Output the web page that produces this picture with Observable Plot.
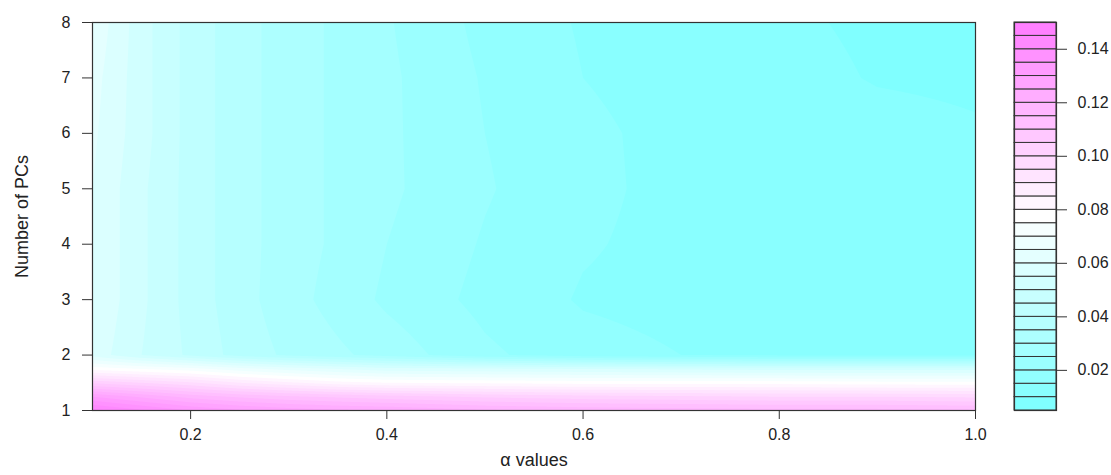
<!DOCTYPE html>
<html>
<head>
<meta charset="utf-8">
<script src="https://cdn.jsdelivr.net/npm/d3@7"></script>
<script src="https://cdn.jsdelivr.net/npm/@observablehq/plot@0.6"></script>
<style>
  html, body { margin: 0; padding: 0; background: white; }
  #wrap { position: relative; width: 1111px; height: 475px; overflow: hidden; background: white; }
  #main { position: absolute; left: 0; top: 0; }
  #legend { position: absolute; left: 990px; top: 0; }
</style>
</head>
<body>
<div id="wrap"><div id="main"></div><div id="legend"></div></div>
<script>
// Grid of alpha values (x) and numbers of PCs (y) at which the field was read
const alphas = [0.1, 0.15, 0.2, 0.25, 0.3, 0.35, 0.4, 0.5, 0.6, 0.7, 0.8, 0.9, 1.0];
const pcs = [1, 1.25, 1.5, 1.75, 2, 3, 4, 5, 6, 7, 8];

// Values, one row per PC position (columns follow alphas)
const val_pc1    = [0.147, 0.141, 0.135, 0.131, 0.128, 0.126, 0.125, 0.121, 0.119, 0.118, 0.117, 0.117, 0.116];
const val_pc1_25 = [0.130, 0.124, 0.118, 0.114, 0.111, 0.109, 0.107, 0.104, 0.102, 0.101, 0.100, 0.100, 0.099];
const val_pc1_5  = [0.104, 0.100, 0.096, 0.090, 0.086, 0.082, 0.080, 0.079, 0.078, 0.078, 0.078, 0.077, 0.077];
const val_pc1_75 = [0.078, 0.075, 0.072, 0.067, 0.063, 0.060, 0.057, 0.056, 0.055, 0.054, 0.053, 0.053, 0.053];
const val_pc2    = [0.058, 0.050, 0.044, 0.038, 0.034, 0.031, 0.028, 0.021, 0.017, 0.015, 0.014, 0.014, 0.014];
const val_pc3    = [0.060, 0.051, 0.043, 0.037, 0.032, 0.028, 0.024, 0.0185, 0.0145, 0.0133, 0.012, 0.0115, 0.011];
const val_pc4    = [0.060, 0.051, 0.043, 0.037, 0.0325, 0.029, 0.025, 0.0195, 0.0155, 0.0135, 0.012, 0.0115, 0.011];
const val_pc5    = [0.060, 0.051, 0.043, 0.037, 0.0325, 0.029, 0.026, 0.0205, 0.0162, 0.0135, 0.012, 0.0115, 0.011];
const val_pc6    = [0.061, 0.052, 0.043, 0.037, 0.0325, 0.029, 0.026, 0.020, 0.016, 0.0135, 0.012, 0.011, 0.0103];
const val_pc7    = [0.062, 0.052, 0.043, 0.037, 0.0325, 0.029, 0.026, 0.0195, 0.015, 0.013, 0.011, 0.0098, 0.0095];
const val_pc8    = [0.064, 0.052, 0.043, 0.037, 0.0325, 0.029, 0.0255, 0.0185, 0.0145, 0.0125, 0.0105, 0.0095, 0.0093];
const grid = [val_pc1, val_pc1_25, val_pc1_5, val_pc1_75, val_pc2, val_pc3, val_pc4, val_pc5, val_pc6, val_pc7, val_pc8];

// Contour levels and tick labels
const levels = [0.005, 0.01, 0.015, 0.02, 0.025, 0.03, 0.035, 0.04, 0.045, 0.05, 0.055, 0.06, 0.065, 0.07, 0.075,
                0.08, 0.085, 0.09, 0.095, 0.1, 0.105, 0.11, 0.115, 0.12, 0.125, 0.13, 0.135, 0.14, 0.145, 0.15];
const xTicks = [0.2, 0.4, 0.6, 0.8, 1.0];
const yTicks = [1, 2, 3, 4, 5, 6, 7, 8];
const legendTicks = [0.02, 0.04, 0.06, 0.08, 0.10, 0.12, 0.14];

// R cm.colors(29) palette
const nBands = levels.length - 1, half = Math.floor(nBands / 2);
const colors = [];
for (let i = 0; i <= half; i++) { const s = 0.5 - i * 0.5 / half; colors.push(d3.rgb(Math.round(255 * (1 - s)), 255, 255).formatHex()); }
for (let j = 1; j < nBands - half; j++) { const s = j * 0.5 / half; colors.push(d3.rgb(255, Math.round(255 * (1 - s)), 255).formatHex()); }

function field(x, y) {
  const i = Math.max(0, Math.min(alphas.length - 2, d3.bisectRight(alphas, x) - 1));
  const j = Math.max(0, Math.min(pcs.length - 2, d3.bisectRight(pcs, y) - 1));
  const tx = Math.max(0, Math.min(1, (x - alphas[i]) / (alphas[i + 1] - alphas[i])));
  const ty = Math.max(0, Math.min(1, (y - pcs[j]) / (pcs[j + 1] - pcs[j])));
  const v00 = grid[j][i], v10 = grid[j][i + 1], v01 = grid[j + 1][i], v11 = grid[j + 1][i + 1];
  return v00 * (1 - tx) * (1 - ty) + v10 * tx * (1 - ty) + v01 * (1 - tx) * ty + v11 * tx * ty;
}

const font = "'Liberation Sans', Arial, Helvetica, sans-serif";

const main = Plot.plot({
  width: 990, height: 475,
  marginLeft: 92, marginRight: 15, marginTop: 22, marginBottom: 65,
  style: {background: "white", fontFamily: font, fontSize: "16px", color: "#222", overflow: "visible"},
  x: {domain: [0.1, 1.0]},
  y: {domain: [1, 8]},
  color: {type: "threshold", domain: levels.slice(1, -1), range: colors},
  marks: [
    Plot.contour(undefined, {x1: 0.1, x2: 1.0, y1: 1, y2: 8, fill: field, thresholds: levels, pixelSize: 1}),
    Plot.frame({stroke: "#333", strokeWidth: 1.2}),
    Plot.axisX({ticks: xTicks, tickFormat: ".1f", tickSize: 9, tickPadding: 9, label: null, stroke: "#333", fontSize: 16}),
    Plot.axisY({ticks: yTicks, tickFormat: "d", tickSize: 10, tickPadding: 12, label: null, stroke: "#333", fontSize: 16}),
    Plot.text(["Number of PCs"], {text: d => d, frameAnchor: "left", dx: -77, rotate: -90, lineAnchor: "top", textAnchor: "middle", fontSize: 18, fill: "#222"}),
    Plot.text(["α values"], {text: d => d, frameAnchor: "bottom", dy: 43, lineAnchor: "top", textAnchor: "middle", fontSize: 18, fill: "#222"})
  ]
});
document.getElementById("main").appendChild(main);

const bands = levels.slice(0, -1).map((lo, i) => ({lo, hi: levels[i + 1], color: colors[i]}));
const legend = Plot.plot({
  width: 121, height: 475,
  marginLeft: 24, marginRight: 55, marginTop: 22, marginBottom: 65,
  style: {background: "white", fontFamily: font, fontSize: "16px", color: "#222", overflow: "visible"},
  x: {axis: null, domain: [0, 1]},
  y: {domain: [0.005, 0.15]},
  color: {type: "identity"},
  marks: [
    Plot.rect(bands, {x1: 0, x2: 1, y1: "lo", y2: "hi", fill: "color", stroke: "#333", strokeWidth: 1}),
    Plot.frame({stroke: "#333", strokeWidth: 1.2}),
    Plot.axisY({anchor: "right", ticks: legendTicks, tickFormat: ".2f", tickSize: 10, tickPadding: 11, label: null, stroke: "#333", fontSize: 16})
  ]
});
document.getElementById("legend").appendChild(legend);
</script>
</body>
</html>
